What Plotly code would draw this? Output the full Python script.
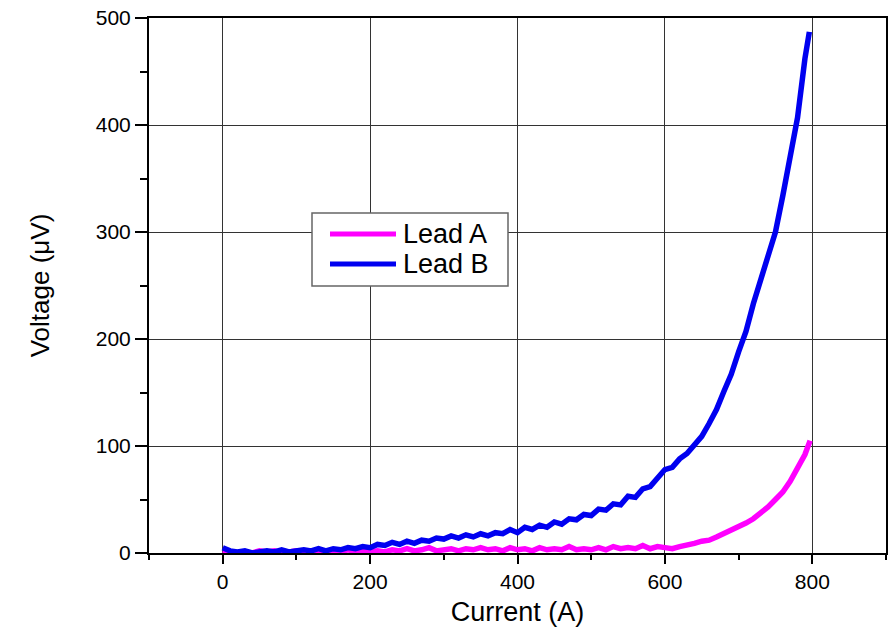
import plotly.graph_objects as go

# Current (A)
current_a = [0, 10, 20, 30, 40, 50, 60, 70, 80, 90, 100, 110, 120, 130, 140, 150, 160, 170, 180, 190,
             200, 210, 220, 230, 240, 250, 260, 270, 280, 290, 300, 310, 320, 330, 340, 350, 360, 370, 380, 390,
             400, 410, 420, 430, 440, 450, 460, 470, 480, 490, 500, 510, 520, 530, 540, 550, 560, 570, 580, 590,
             600, 610, 620, 630, 640, 650, 660, 670, 680, 690, 700, 710, 720, 730, 740, 750, 760, 770, 780, 790, 797]
lead_a_uv = [2, 1, 0, 1, 0, 2, 1, 2, 0, 1, 2, 1, 0, 2, 1, 2, 1, 3, 1, 2,
             1, 2, 1, 3, 2, 4, 2, 3, 5, 2, 3, 4, 2, 4, 3, 5, 3, 4, 2, 5,
             3, 4, 2, 5, 3, 4, 3, 6, 3, 4, 3, 5, 3, 6, 4, 5, 4, 7, 4, 6,
             5, 4, 6, 7, 9, 11, 12, 15, 18, 21, 25, 28, 32, 37, 43, 50, 57, 67, 80, 92, 105]

current_b = [0, 10, 20, 30, 40, 50, 60, 70, 80, 90, 100, 110, 120, 130, 140, 150, 160, 170, 180, 190,
             200, 210, 220, 230, 240, 250, 260, 270, 280, 290, 300, 310, 320, 330, 340, 350, 360, 370, 380, 390,
             400, 410, 420, 430, 440, 450, 460, 470, 480, 490, 500, 510, 520, 530, 540, 550, 560, 570, 580, 590,
             600, 610, 620, 630, 640, 650, 660, 670, 680, 690, 700, 710, 720, 730, 740, 750, 760, 770, 780, 790, 796]
lead_b_uv = [5, 2, 1, 2, 0, 1, 2, 1, 3, 1, 2, 3, 2, 4, 2, 4, 3, 5, 4, 6,
             5, 8, 7, 10, 8, 11, 9, 12, 11, 14, 13, 16, 14, 17, 15, 18, 16, 19, 18, 22,
             19, 24, 22, 26, 24, 29, 27, 32, 31, 36, 35, 41, 40, 46, 45, 53, 52, 60, 62, 71,
             78, 80, 88, 93, 101, 109, 121, 134, 151, 167, 188, 207, 233, 255, 279, 300, 334, 369, 407, 462, 487]

series_names = ["Lead A", "Lead B"]
series_colors = ["#FF00FF", "#0000F0"]

x_ticks = [0, 200, 400, 600, 800]
y_ticks = [0, 100, 200, 300, 400, 500]

FONT = "Liberation Sans, Arial, sans-serif"

fig = go.Figure()
fig.add_trace(go.Scatter(x=current_a, y=lead_a_uv, mode="lines", name=series_names[0],
                         line=dict(color=series_colors[0], width=5.5)))
fig.add_trace(go.Scatter(x=current_b, y=lead_b_uv, mode="lines", name=series_names[1],
                         line=dict(color=series_colors[1], width=5.5)))

# Custom legend box (paper coords relative to plot area in screen pixels)
L, R, T, B = 149, 886, 18, 553
def px(xp):
    return (xp - L) / (R - L)
def py(yp):
    return (B - yp) / (B - T)

shapes = [dict(type="rect", xref="paper", yref="paper",
               x0=px(312), x1=px(508), y0=py(286), y1=py(213),
               fillcolor="white", line=dict(color="#666666", width=1.5), layer="above")]
annotations = []
for i, (nm, col) in enumerate(zip(series_names, series_colors)):
    yy = 234 + 30 * i
    shapes.append(dict(type="line", xref="paper", yref="paper",
                       x0=px(330), x1=px(396), y0=py(yy), y1=py(yy),
                       line=dict(color=col, width=5), layer="above"))
    annotations.append(dict(xref="paper", yref="paper", x=px(401), y=py(yy),
                            xanchor="left", yanchor="middle", showarrow=False,
                            text=nm, font=dict(size=27, family=FONT, color="black")))

fig.update_layout(
    width=894, height=627,
    margin=dict(l=L, r=894 - R, t=T, b=627 - B),
    paper_bgcolor="white", plot_bgcolor="white",
    font=dict(family=FONT, color="black"),
    showlegend=False,
    shapes=shapes, annotations=annotations,
)
fig.update_xaxes(
    range=[-100, 900], tickvals=x_ticks, ticktext=[str(v) for v in x_ticks],
    showgrid=True, gridcolor="#333333", gridwidth=1,
    showline=True, linecolor="black", linewidth=2, mirror=True,
    ticks="outside", ticklen=9, tickwidth=2, tickcolor="black",
    minor=dict(tickvals=[-100, 100, 300, 500, 700, 900], ticks="outside", ticklen=5, tickwidth=2, tickcolor="black", showgrid=False),
    tickfont=dict(size=21), zeroline=False, automargin=False, ticklabeloverflow="allow",
    title=dict(text="Current (A)", font=dict(size=27), standoff=18),
)
fig.update_yaxes(
    range=[0, 500], tickvals=y_ticks, ticktext=[str(v) for v in y_ticks],
    showgrid=True, gridcolor="#333333", gridwidth=1,
    showline=True, linecolor="black", linewidth=2, mirror=True,
    ticks="outside", ticklen=12, tickwidth=2, tickcolor="black",
    minor=dict(tickvals=[50, 150, 250, 350, 450], ticks="outside", ticklen=7, tickwidth=2, tickcolor="black", showgrid=False),
    tickfont=dict(size=21), zeroline=False, automargin=False, ticklabeloverflow="allow",
    title=dict(text="Voltage (μV)", font=dict(size=26), standoff=39),
)

fig.write_html("out.html", config={"displayModeBar": False},
               post_script="document.body.style.margin='0px';")
